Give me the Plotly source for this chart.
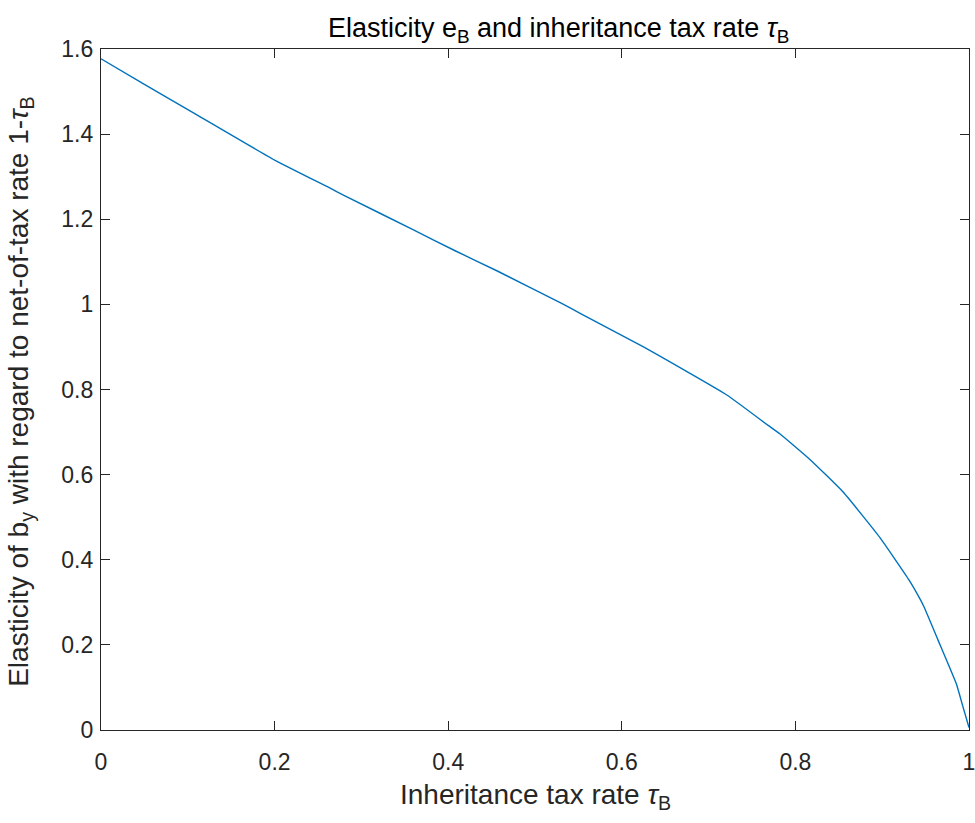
import plotly.graph_objects as go

tau_B = [0.0, 0.05, 0.109, 0.2, 0.264, 0.281, 0.36, 0.408, 0.456, 0.529, 0.552,
         0.625, 0.721, 0.769, 0.782, 0.817, 0.855, 0.897, 0.931, 0.9435, 0.948,
         0.9646, 0.9855, 0.993, 1.0]
elasticity = [1.577, 1.517, 1.447, 1.339, 1.273, 1.255, 1.175, 1.126, 1.079, 1.004, 0.979,
              0.900, 0.787, 0.715, 0.696, 0.635, 0.559, 0.453, 0.352, 0.308, 0.290,
              0.210, 0.108, 0.055, 0.006]

x_ticks = [0, 0.2, 0.4, 0.6, 0.8, 1]
x_ticklabels = ["0", "0.2", "0.4", "0.6", "0.8", "1"]
y_ticks = [0, 0.2, 0.4, 0.6, 0.8, 1, 1.2, 1.4, 1.6]
y_ticklabels = ["0", "0.2", "0.4", "0.6", "0.8", "1", "1.2", "1.4", "1.6"]

FONT = "Liberation Sans, Arial, Helvetica, sans-serif"
AX = "#262626"

fig = go.Figure()
fig.add_trace(go.Scatter(x=tau_B, y=elasticity, mode="lines",
                         line=dict(color="#0072BD", width=1.4, shape="spline", smoothing=0.4),
                         showlegend=False))

axis_common = dict(showline=True, linecolor=AX, linewidth=1.3, mirror="ticks",
                   ticks="inside", ticklen=9, tickwidth=1.3, tickcolor=AX,
                   showgrid=False, zeroline=False, automargin=False,
                   ticklabeloverflow="allow",
                   tickfont=dict(family=FONT, size=23, color=AX))

fig.update_layout(
    width=975, height=823,
    margin=dict(l=101, r=6, t=49, b=93),
    paper_bgcolor="white", plot_bgcolor="white",
    title=dict(text="Elasticity e<sub>B</sub> and inheritance tax rate <i>τ</i><sub>B</sub>",
               x=0.573, xanchor="center", y=0.966, yanchor="middle",
               font=dict(family=FONT, size=27, color="#000000")),
    xaxis=dict(range=[0, 1], tickvals=x_ticks, ticktext=x_ticklabels,
               ticklabelstandoff=11,
               **axis_common),
    yaxis=dict(range=[0, 1.6], tickvals=y_ticks, ticktext=y_ticklabels,
               ticklabelstandoff=2,
               **axis_common),
    annotations=[
        dict(text="Inheritance tax rate <i>τ</i><sub>B</sub>",
             xref="paper", yref="paper", x=0.5, y=-0.097,
             xanchor="center", yanchor="middle", showarrow=False,
             font=dict(family=FONT, size=28, color=AX)),
        dict(text="Elasticity of b<sub>y</sub> with regard to net-of-tax rate 1-<i>τ</i><sub>B</sub>",
             xref="paper", yref="paper", x=-0.093, y=0.497, textangle=-90,
             xanchor="center", yanchor="middle", showarrow=False,
             font=dict(family=FONT, size=28, color=AX)),
    ],
)

fig.write_html("out.html", config={"displayModeBar": False},
               post_script="document.body.style.margin='0';document.body.style.overflow='hidden';")
